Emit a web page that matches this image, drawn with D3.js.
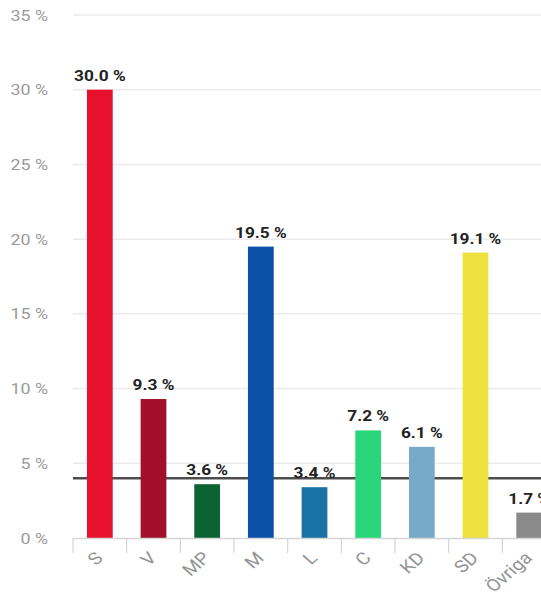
<!DOCTYPE html>
<html><head><meta charset="utf-8">
<script src="https://cdn.jsdelivr.net/npm/d3@7"></script>
<style>
html,body{margin:0;padding:0;background:#fff;overflow:hidden}
svg{display:block;font-family:Roboto,"Noto Sans",sans-serif}
</style></head>
<body>
<svg id="c" width="541" height="596"></svg>
<script>
const parties = ["S","V","MP","M","L","C","KD","SD","Övriga"];
const values = [30.0, 9.3, 3.6, 19.5, 3.4, 7.2, 6.1, 19.1, 1.7];
const colors = ["#e8112d","#a20f2b","#0b6333","#0a4fa8","#1a71a3","#2bd57c","#79a9c8","#ede13e","#8a8a8a"];
const yTicks = [0,5,10,15,20,25,30,35];
const threshold = 4;
const SX = 1.15; // horizontal stretch of the reference text

const svg = d3.select("#c");
const x = d3.scaleBand().domain(parties).range([73, 556]).paddingInner(0.52).paddingOuter(0.26);
const y = d3.scaleLinear().domain([0, 35]).range([538, 15]);

// gridlines
svg.append("g").selectAll("line").data(yTicks.filter(d=>d>0)).join("line")
  .attr("x1", 73).attr("x2", 541)
  .attr("y1", d=>y(d)).attr("y2", d=>y(d))
  .attr("stroke", "#ebebeb").attr("stroke-width", 1.5);

// y labels
svg.append("g").selectAll("text").data(yTicks).join("text")
  .attr("transform", d=>`translate(48,${y(d)+5.5}) scale(${SX},1)`)
  .attr("text-anchor","end").attr("font-size", 15.5).attr("fill","#9a9a9a")
  .text(d=>d+" %");

// threshold line (behind bars)
svg.append("line").attr("x1", 73).attr("x2", 541)
  .attr("y1", y(threshold)).attr("y2", y(threshold))
  .attr("stroke","#4d4d4d").attr("stroke-width", 2.4);

// bars
svg.append("g").selectAll("rect").data(parties).join("rect")
  .attr("x", d=>x(d)).attr("width", x.bandwidth())
  .attr("y", (d,i)=>y(values[i])).attr("height", (d,i)=>y(0)-y(values[i]))
  .attr("fill", (d,i)=>colors[i]);

// x axis
const step = x.step();
const bounds = d3.range(parties.length+1).map(i=>73 + i*step);
svg.append("line").attr("x1",73).attr("x2",541).attr("y1",y(0)+0.5).attr("y2",y(0)+0.5)
  .attr("stroke","#d6d6d6").attr("stroke-width",1.5);
svg.append("g").selectAll("line").data(bounds).join("line")
  .attr("x1", d=>d).attr("x2", d=>d).attr("y1", y(0)).attr("y2", y(0)+15)
  .attr("stroke","#d6d6d6").attr("stroke-width",1.2);

svg.append("g").selectAll("text").data(parties).join("text")
  .attr("transform", d=>`translate(${x(d)+x.bandwidth()/2+4},${y(0)+21}) scale(${SX},1) rotate(-45)`)
  .attr("text-anchor","end").attr("font-size",17).attr("fill","#939393")
  .text(d=>d);

// value labels
svg.append("g").selectAll("text").data(parties).join("text")
  .attr("transform", (d,i)=>`translate(${x(d)+x.bandwidth()/2},${y(values[i])-9}) scale(${SX},1)`)
  .attr("text-anchor","middle").attr("font-size",15).attr("font-weight","bold").attr("fill","#222")
  .text((d,i)=>values[i].toFixed(1)+" %");
</script>
</body></html>
